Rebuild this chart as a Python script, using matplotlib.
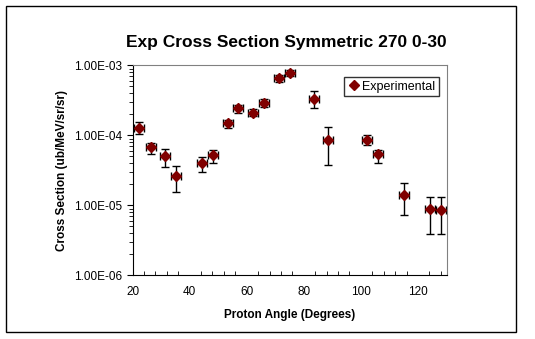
import matplotlib
matplotlib.use('Agg')
import matplotlib.pyplot as plt
from matplotlib.ticker import LogLocator, MultipleLocator, NullFormatter
import numpy as np

plt.rcParams['font.family'] = ['Liberation Sans', 'DejaVu Sans']

# data
angle = [22.3, 26.4, 31.3, 35.3, 44.2, 48.3, 53.4, 57.0, 62.2, 66.2,
         71.2, 75.2, 83.7, 88.3, 102.1, 105.9, 115.0, 124.2, 127.9]
xsec = [1.26e-4, 6.8e-5, 5.0e-5, 2.6e-5, 3.98e-5, 5.18e-5, 1.48e-4, 2.43e-4, 2.11e-4, 2.87e-4,
        6.52e-4, 7.77e-4, 3.31e-4, 8.49e-5, 8.5e-5, 5.36e-5, 1.39e-5, 8.77e-6, 8.57e-6]
err_hi = [1.53e-4, 7.9e-5, 6.3e-5, 3.65e-5, 4.9e-5, 6.1e-5, 1.67e-4, 2.71e-4, 2.35e-4, 3.27e-4,
          7.2e-4, 8.5e-4, 4.3e-4, 1.32e-4, 1.0e-4, 6.1e-5, 2.06e-5, 1.33e-5, 1.33e-5]
err_lo = [1.06e-4, 5.36e-5, 3.49e-5, 1.55e-5, 2.96e-5, 3.98e-5, 1.26e-4, 2.06e-4, 1.87e-4, 2.51e-4,
          5.85e-4, 7.0e-4, 2.43e-4, 3.73e-5, 7.36e-5, 3.98e-5, 7.2e-6, 3.86e-6, 3.86e-6]
angle_err = [1.75] * len(angle)

x = np.array(angle)
y = np.array(xsec)
yerr = [y - np.array(err_lo), np.array(err_hi) - y]

fig = plt.figure(figsize=(5.35, 3.39), dpi=100)
# outer border
fig.patches.append(plt.Rectangle((6 / 535, 1 - 332 / 339), 510 / 535, 326 / 339,
                                 transform=fig.transFigure, fill=False, edgecolor='black', lw=1))

ax = fig.add_axes([0.2477, 0.188, 0.587, 0.619])
ax.errorbar(x, y, yerr=yerr, xerr=angle_err, fmt='none', ecolor='black',
            elinewidth=1, capsize=3, capthick=1, zorder=2)
ax.plot(x, y, linestyle='none', marker='D', markersize=5.5, color='#800000',
        label='Experimental', zorder=3)

ax.set_yscale('log')
ax.set_ylim(1e-6, 1e-3)
ax.set_xlim(20, 130)
ax.xaxis.set_major_locator(MultipleLocator(20))
ax.xaxis.set_minor_locator(MultipleLocator(4))
ax.yaxis.set_major_locator(LogLocator(base=10))
ax.yaxis.set_minor_locator(LogLocator(base=10, subs=np.arange(2, 10)))
ax.yaxis.set_minor_formatter(NullFormatter())
ax.set_yticks([1e-6, 1e-5, 1e-4, 1e-3])
ax.set_yticklabels(['1.00E-06', '1.00E-05', '1.00E-04', '1.00E-03'])

ax.tick_params(axis='x', which='major', length=0, labelsize=8.5, pad=8)
ax.tick_params(axis='x', which='minor', direction='in', length=3)
ax.tick_params(axis='y', which='major', direction='out', length=4, labelsize=8.5)
ax.tick_params(axis='y', which='minor', direction='out', length=3)

for s in ['top', 'right']:
    ax.spines[s].set_color('#808080')

ax.set_xlabel('Proton Angle (Degrees)', fontsize=8.5, fontweight='bold', labelpad=8)
ax.set_ylabel('Cross Section (ub/MeV/sr/sr)', fontsize=8.5, fontweight='bold', labelpad=4)
fig.text(0.535, 0.874, 'Exp Cross Section Symmetric 270 0-30', ha='center', va='center',
         fontsize=12.5, fontweight='bold')

leg = ax.legend(loc='upper right', fontsize=9, frameon=True, fancybox=False,
                handletextpad=0.1, handlelength=1.0, borderpad=0.3,
                bbox_to_anchor=(0.995, 0.975))
leg.get_frame().set_edgecolor('black')
leg.get_frame().set_linewidth(1)

fig.savefig('out.png', dpi=100)
